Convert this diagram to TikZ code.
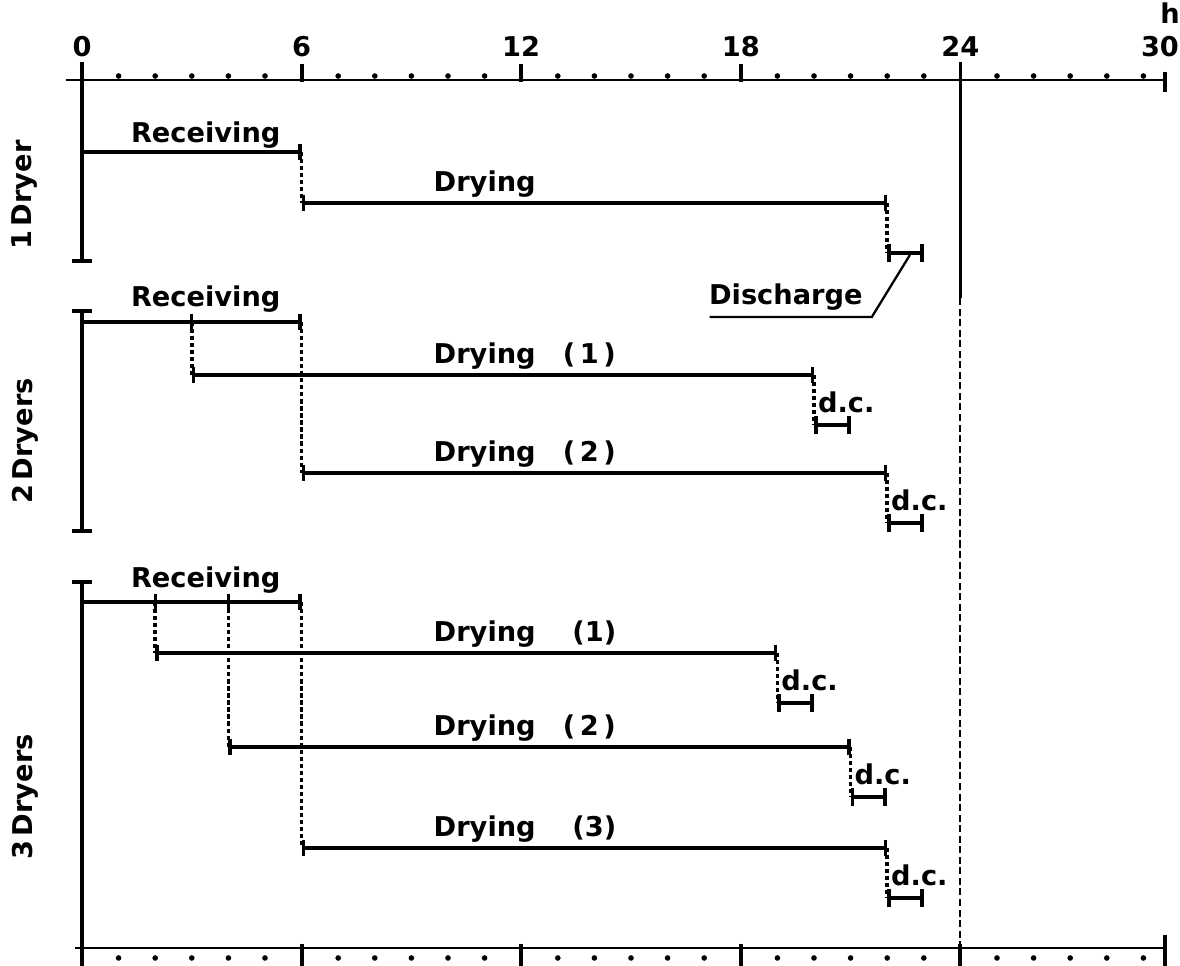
\documentclass[tikz,border=0pt]{standalone}
\usepackage{fontspec}
\setmainfont{DejaVu Sans}
\usetikzlibrary{arrows.meta}
\newcommand{\lblfont}{\bfseries\fontsize{15.5}{18}\selectfont}

\begin{document}
\begin{tikzpicture}[
  x=7.32mm, y=-0.2mm,
  axis/.style={line width=1.1pt},
  major/.style={line width=2.2pt},
  spine/.style={line width=2.5pt},
  bar/.style={line width=1.9pt},
  recv/.style={bar, -{Bar[width=9pt]}},
  dry/.style={bar, {Bar[width=9pt]}-{Bar[width=9pt]}},
  dc/.style={line width=2.2pt, {Bar[width=10pt]}-{Bar[width=10pt]}},
  link/.style={line width=2pt, dash pattern=on 2.4pt off 1.6pt},
  lead/.style={line width=1.3pt},
  lbl/.style={font=\lblfont, inner sep=0pt, anchor=base},
  side/.style={font=\lblfont, rotate=90, inner sep=0pt}]
  \useasboundingbox (-2.2404,0) rectangle (30,966);
  % time axes (hours)
  \draw[axis] (-0.45,80) -- (29.6,80);
  \draw[axis] (-0.2,948) -- (29.6,948);
  \foreach \b in {0,6,...,24} \foreach \k in {1,...,5} {
    \fill (\b+\k,76) circle (1.6pt);
    \fill (\b+\k,958) circle (1.6pt);
  }
  \foreach \h in {6,12,18} \draw[major] (\h,64) -- (\h,82);
  \draw[major] (29.6,72) -- (29.6,92);
  \foreach \h in {6,12,18,24} \draw[major] (\h,944) -- (\h,970);
  \draw[major] (29.6,935) -- (29.6,970);
  \foreach \h in {0,6,12,18,24} \node[lbl] (n\h) at (\h,57) {\h};
  \node[lbl, anchor=base east] (n30) at (29.98,57) {30};
  \node[lbl, anchor=north east] (unit) at (30,2) {h};
  % 24 h limit
  \draw[line width=1.3pt] (24,62) -- (24,298);
  \draw[line width=1.1pt, dash pattern=on 4pt off 2pt] (24,298) -- (24,948);
  % one spine per layout
  \draw[spine, -{Bar[width=11pt]}] (0,62) -- (0,263);
  \draw[spine, {Bar[width=11pt]}-{Bar[width=11pt]}] (0,309) -- (0,533);
  \draw[spine, {Bar[width=11pt]}-] (0,580) -- (0,970);
  \node[side] (one) at (-1.56,195) {1\,Dryer};
  \node[side] (two) at (-1.56,441) {2\,Dryers};
  \node[side] (three) at (-1.56,797) {3\,Dryers};
  % receiving
  \foreach \y/\b [count=\i] in {152/143, 322/307, 602/588} {
    \draw[recv] (0,\y) -- (6,\y);
    \node[lbl] (rec\i) at (3.38,\b) {Receiving};
  }
  \foreach \h/\y in {3/322, 2/602, 4/602} \draw[bar] (\h,\y-8) -- (\h,\y+8);
  % drying + discharge
  \foreach \s/\e/\y/\r/\t [count=\i] in {
      6/22/203/152/Drying,
      3/20/375/322/Drying\quad(\,1\,),
      6/22/473/322/Drying\quad(\,2\,),
      2/19/653/602/Drying\quad\ (1),
      4/21/747/602/Drying\quad(\,2\,),
      6/22/848/602/Drying\quad\ (3)} {
    \draw[link] (\s,\r) -- (\s,\y);
    \draw[dry] (\s,\y) -- (\e,\y);
    \node[lbl, anchor=base west] (dry\i) at (9.6,\y-11) {\t};
    \draw[link] (\e,\y) -- (\e,\y+50);
    \draw[dc] (\e,\y+50) -- (\e+1,\y+50);
  }
  \foreach \e/\y [count=\i] in {20/425, 22/523, 19/703, 21/797, 22/898}
    \node[lbl, anchor=base west] (dc\i) at (\e+0.1,\y-12) {d.c.};
  \node[lbl] (dis) at (19.23,305) {Discharge};
  \coordinate (u1) at (17.15,317);
  \coordinate (u2) at (21.58,317);
  \coordinate (dtip) at (22.62,255);
  \draw[lead] (u1) -- (u2) -- (dtip);
\end{tikzpicture}
\end{document}
